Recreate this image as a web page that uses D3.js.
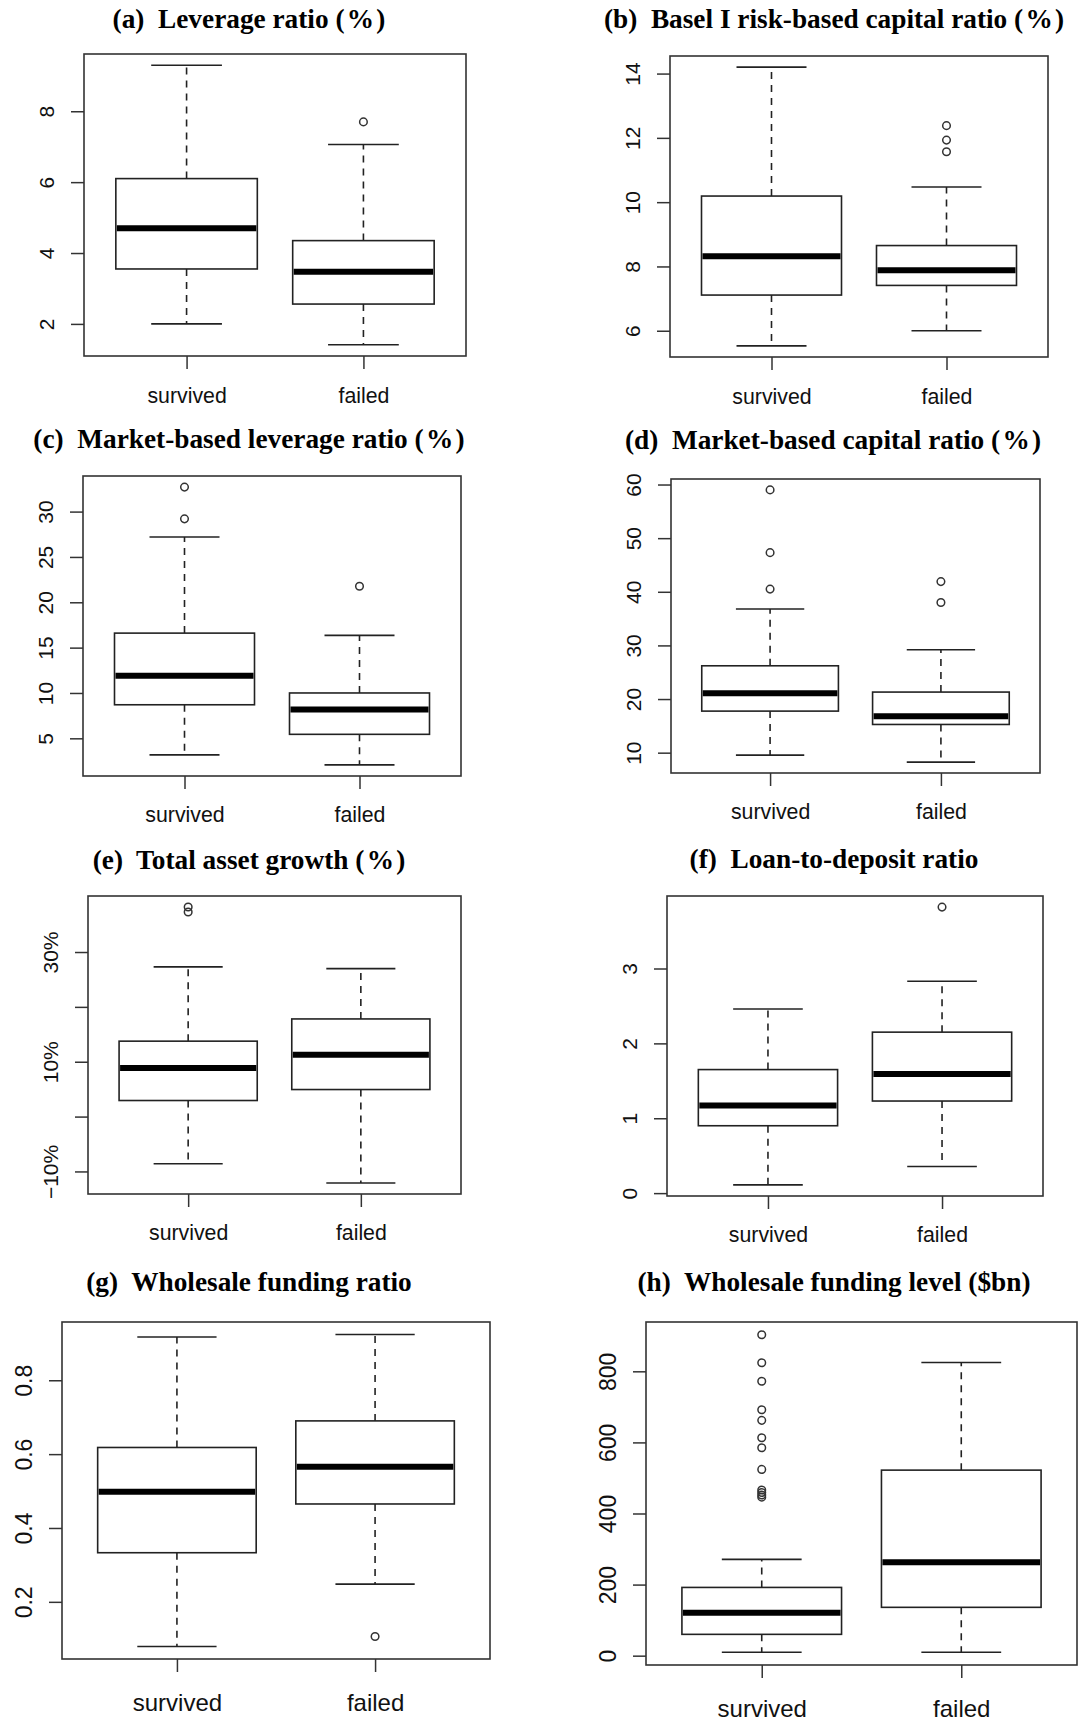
<!DOCTYPE html>
<html>
<head>
<meta charset="utf-8">
<script src="https://cdn.jsdelivr.net/npm/d3@7"></script>
<style>
  body { margin: 0; background: #fff; }
  .title { font-family: "Liberation Serif", "Times New Roman", serif; font-weight: bold; fill: #000; }
  .axis text { font-family: "Liberation Sans", Arial, sans-serif; fill: #111; }
  .axis line { stroke: #333; stroke-width: 1.5; }
</style>
</head>
<body>
<svg id="chart"></svg>
<script>
// 1. Data
// --------------------------------------------------------
    const groups = ['survived', 'failed'];

    const titles = [
        '(a)\u00a0 Leverage ratio (\u200a%\u200a)',
        '(b)\u00a0 Basel I risk-based capital ratio (\u200a%\u200a)',
        '(c)\u00a0 Market-based leverage ratio (\u200a%\u200a)',
        '(d)\u00a0 Market-based capital ratio (\u200a%\u200a)',
        '(e)\u00a0 Total asset growth (\u200a%\u200a)',
        '(f)\u00a0 Loan-to-deposit ratio',
        '(g)\u00a0 Wholesale funding ratio',
        '(h)\u00a0 Wholesale funding level ($bn)'
    ];

    // [lower whisker, Q1, median, Q3, upper whisker] for survived, failed
    const leverageStats = [[2.00, 3.55, 4.70, 6.10, 9.30], [1.41, 2.56, 3.47, 4.35, 7.06]];
    const leverageOutliers = [[], [7.70]];
    const leverageTicks = [2, 4, 6, 8];

    const baselStats = [[5.53, 7.11, 8.32, 10.19, 14.20], [6.00, 7.41, 7.88, 8.65, 10.47]];
    const baselOutliers = [[], [12.38, 11.93, 11.57]];
    const baselTicks = [6, 8, 10, 12, 14];

    const mktLeverageStats = [[3.17, 8.70, 11.90, 16.60, 27.20], [2.07, 5.44, 8.17, 10.00, 16.35]];
    const mktLeverageOutliers = [[32.70, 29.20], [21.76]];
    const mktLeverageTicks = [5, 10, 15, 20, 25, 30];

    const mktCapitalStats = [[9.55, 17.75, 21.07, 26.20, 36.80], [8.24, 15.26, 16.80, 21.30, 29.20]];
    const mktCapitalOutliers = [[59.00, 47.30, 40.50], [41.90, 38.00]];
    const mktCapitalTicks = [10, 20, 30, 40, 50, 60];

    const assetGrowthStats = [[-8.60, 2.93, 8.86, 13.75, 27.30], [-12.10, 4.93, 11.27, 17.80, 26.98]];
    const assetGrowthOutliers = [[38.20, 37.30], []];
    const assetGrowthTicks = [-10, 0, 10, 20, 30];
    const assetGrowthTickLabels = ['\u221210%', '', '10%', '', '30%'];

    const loanDepositStats = [[0.11, 0.90, 1.17, 1.65, 2.46], [0.355, 1.23, 1.59, 2.15, 2.83]];
    const loanDepositOutliers = [[], [3.82]];
    const loanDepositTicks = [0, 1, 2, 3];

    const wfRatioStats = [[0.079, 0.333, 0.498, 0.618, 0.917], [0.248, 0.465, 0.566, 0.690, 0.924]];
    const wfRatioOutliers = [[], [0.106]];
    const wfRatioTicks = [0.2, 0.4, 0.6, 0.8];

    const wfLevelStats = [[9.5, 60, 121, 192, 271], [9.5, 136, 263, 522, 825]];
    const wfLevelOutliers = [[903, 824, 772, 692, 662, 613, 585, 524, 466, 459, 452, 446], []];
    const wfLevelTicks = [0, 200, 400, 600, 800];

// 2. Layout of the eight panels (frame box, title anchor, font sizes)
// --------------------------------------------------------
    const width = 1080;
    const height = 1723;

    const frames = [
        { left: 84,  top: 54,   right: 466,  bottom: 356,  titleX: 249, titleY: 28,   font: 21, xFont: 21.3, xGap: 47 },
        { left: 670, top: 56,   right: 1048, bottom: 357,  titleX: 834, titleY: 28,   font: 21, xFont: 21.3, xGap: 47 },
        { left: 83,  top: 476,  right: 461,  bottom: 776,  titleX: 249, titleY: 448,  font: 21, xFont: 21.3, xGap: 46 },
        { left: 671, top: 479,  right: 1040, bottom: 773,  titleX: 833, titleY: 449,  font: 21, xFont: 21.3, xGap: 46 },
        { left: 88,  top: 896,  right: 461,  bottom: 1194, titleX: 249, titleY: 869,  font: 21, xFont: 21.3, xGap: 46 },
        { left: 667, top: 896,  right: 1043, bottom: 1196, titleX: 834, titleY: 868,  font: 21, xFont: 21.3, xGap: 46 },
        { left: 62,  top: 1322, right: 490,  bottom: 1659, titleX: 249, titleY: 1291, font: 23, xFont: 24,   xGap: 52 },
        { left: 646, top: 1322, right: 1077, bottom: 1665, titleX: 834, titleY: 1291, font: 23, xFont: 24,   xGap: 52 }
    ];

    const panels = [
        { stats: leverageStats,    outliers: leverageOutliers,    ticks: leverageTicks },
        { stats: baselStats,       outliers: baselOutliers,       ticks: baselTicks },
        { stats: mktLeverageStats, outliers: mktLeverageOutliers, ticks: mktLeverageTicks },
        { stats: mktCapitalStats,  outliers: mktCapitalOutliers,  ticks: mktCapitalTicks },
        { stats: assetGrowthStats, outliers: assetGrowthOutliers, ticks: assetGrowthTicks, labels: assetGrowthTickLabels },
        { stats: loanDepositStats, outliers: loanDepositOutliers, ticks: loanDepositTicks },
        { stats: wfRatioStats,     outliers: wfRatioOutliers,     ticks: wfRatioTicks },
        { stats: wfLevelStats,     outliers: wfLevelOutliers,     ticks: wfLevelTicks }
    ];

    const svg = d3.select('#chart')
                .attr('width', width)
                .attr('height', height);

// 3. Draw one boxplot panel (R-style: 4% padding, boxwex 0.8, staples 0.4)
// --------------------------------------------------------
    function drawPanel(p, f, title) {
        const g = svg.append('g');

        const all = p.stats.flat().concat(p.outliers.flat());
        const lo = d3.min(all), hi = d3.max(all);
        const pad = (hi - lo) * 0.04;

        const yScale = d3.scaleLinear()
            .domain([lo - pad, hi + pad])
            .range([f.bottom, f.top]);
        const xScale = d3.scaleLinear()
            .domain([0.42, 2.58])
            .range([f.left, f.right]);

        const boxes = p.stats.map((s, i) => ({ k: i + 1, s: s, out: p.outliers[i] }));

        // whiskers
        g.selectAll('.whisker')
            .data(boxes.flatMap(d => [[d.k, d.s[3], d.s[4]], [d.k, d.s[1], d.s[0]]]))
            .enter()
            .append('line')
                .attr('x1', d => xScale(d[0]))
                .attr('x2', d => xScale(d[0]))
                .attr('y1', d => yScale(d[1]))
                .attr('y2', d => yScale(d[2]))
                .attr('stroke', '#222')
                .attr('stroke-width', 1.6)
                .attr('stroke-dasharray', '7,6');

        // staples
        g.selectAll('.staple')
            .data(boxes.flatMap(d => [[d.k, d.s[0]], [d.k, d.s[4]]]))
            .enter()
            .append('line')
                .attr('x1', d => xScale(d[0] - 0.2))
                .attr('x2', d => xScale(d[0] + 0.2))
                .attr('y1', d => yScale(d[1]))
                .attr('y2', d => yScale(d[1]))
                .attr('stroke', '#222')
                .attr('stroke-width', 1.6);

        // boxes
        g.selectAll('.box')
            .data(boxes)
            .enter()
            .append('rect')
                .attr('x', d => xScale(d.k - 0.4))
                .attr('width', d => xScale(d.k + 0.4) - xScale(d.k - 0.4))
                .attr('y', d => yScale(d.s[3]))
                .attr('height', d => yScale(d.s[1]) - yScale(d.s[3]))
                .attr('fill', '#fff')
                .attr('stroke', '#222')
                .attr('stroke-width', 1.6);

        // medians
        g.selectAll('.median')
            .data(boxes)
            .enter()
            .append('line')
                .attr('x1', d => xScale(d.k - 0.4) + 1)
                .attr('x2', d => xScale(d.k + 0.4) - 1)
                .attr('y1', d => yScale(d.s[2]))
                .attr('y2', d => yScale(d.s[2]))
                .attr('stroke', '#000')
                .attr('stroke-width', 6);

        // outliers
        g.selectAll('.outlier')
            .data(boxes.flatMap(d => d.out.map(v => [d.k, v])))
            .enter()
            .append('circle')
                .attr('cx', d => xScale(d[0]))
                .attr('cy', d => yScale(d[1]))
                .attr('r', 3.8)
                .attr('fill', 'none')
                .attr('stroke', '#333')
                .attr('stroke-width', 1.5);

        // frame
        g.append('rect')
            .attr('x', f.left)
            .attr('y', f.top)
            .attr('width', f.right - f.left)
            .attr('height', f.bottom - f.top)
            .attr('fill', 'none')
            .attr('stroke', '#333')
            .attr('stroke-width', 1.6);

        // y axis, labels parallel to the axis
        const yAxis = g.append('g')
            .attr('class', 'axis')
            .attr('transform', `translate(${f.left},0)`)
            .call(d3.axisLeft(yScale)
                .tickValues(p.ticks)
                .tickSize(13)
                .tickFormat((d, i) => p.labels ? p.labels[i] : String(d)));
        yAxis.select('.domain').remove();
        yAxis.selectAll('.tick text')
            .attr('x', 0)
            .attr('dy', 0)
            .attr('transform', 'translate(-30,0) rotate(-90)')
            .attr('text-anchor', 'middle')
            .style('font-size', f.font + 'px');

        // x axis
        const xAxis = g.append('g')
            .attr('class', 'axis')
            .attr('transform', `translate(0,${f.bottom})`)
            .call(d3.axisBottom(xScale)
                .tickValues([1, 2])
                .tickSize(13)
                .tickFormat((d, i) => groups[i]));
        xAxis.select('.domain').remove();
        xAxis.selectAll('.tick text')
            .attr('y', f.xGap)
            .attr('dy', 0)
            .style('font-size', f.xFont + 'px');

        // title
        svg.append('text')
            .attr('class', 'title')
            .attr('x', f.titleX)
            .attr('y', f.titleY)
            .attr('text-anchor', 'middle')
            .style('font-size', '27.3px')
            .text(title);
    }

// 4. Draw all panels
// --------------------------------------------------------
    panels.forEach((p, i) => drawPanel(p, frames[i], titles[i]));
</script>
</body>
</html>
